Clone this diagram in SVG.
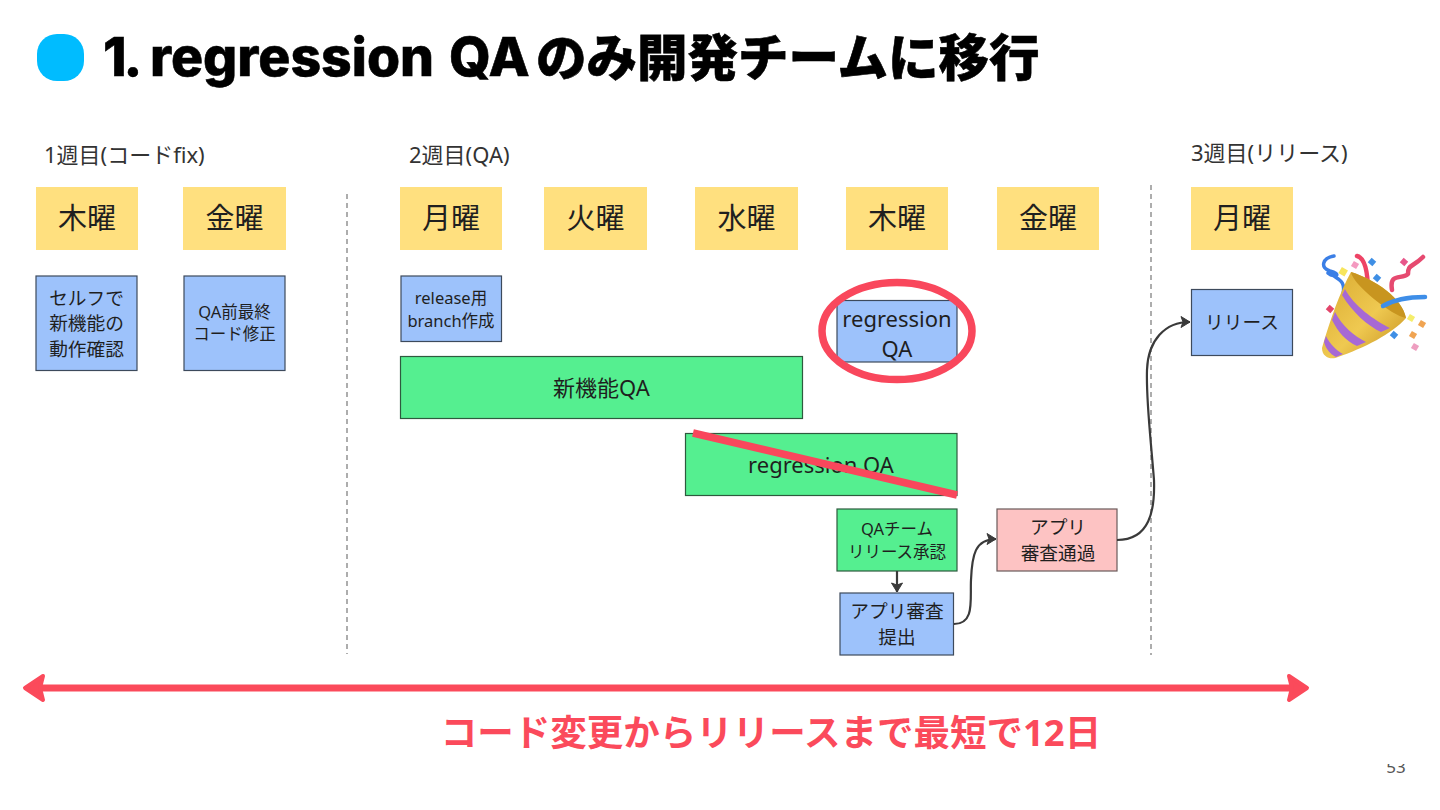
<svg xmlns="http://www.w3.org/2000/svg" width="1440" height="810" viewBox="0 0 1440 810">
<style>
text{font-family:"Noto Sans","Noto Sans CJK JP",sans-serif;fill:#1f1f1f;text-anchor:middle}
.day rect{fill:#ffe07f}
.day text{font-size:29px}
.b rect{stroke:#3d4a5c;stroke-width:1.2}
.blue rect{fill:#9dc2fb}
.green rect{fill:#55ef90;stroke:#2e5a3e}
.pink rect{fill:#fdc3c3;stroke:#6a5a5a}
.wk{font-size:22px;text-anchor:start;fill:#333}
.s19{font-size:18.700px}.s16{font-size:16.500px}.s22{font-size:22px}
.c{fill:none;stroke:#3a3a3a;stroke-width:2.2}
.dash{stroke:#777;stroke-width:1.2;stroke-dasharray:5 4;fill:none}
</style>
<defs>
<marker id="ah" markerUnits="userSpaceOnUse" markerWidth="12" markerHeight="14" refX="11" refY="7" orient="auto"><path d="M2 1.500L11 7L2 12.500L4 7Z" fill="#3a3a3a" stroke="#3a3a3a" stroke-width="1"/></marker>
<linearGradient id="gold" x1="0" y1="0" x2="1" y2="1"><stop offset="0" stop-color="#d9a92f"/><stop offset=".55" stop-color="#efc951"/><stop offset="1" stop-color="#c48e1c"/></linearGradient>
</defs>
<rect width="1440" height="810" fill="#fff"/>
<g id="title">
<rect x="37" y="34" width="47" height="47" rx="20" fill="#00bcff"/>
<text y="76" style="font-family:Inter,'Noto Sans CJK JP',sans-serif;font-weight:800;font-size:53.500px;text-anchor:start;fill:#000;stroke:#000;stroke-width:.6"><tspan x="103" letter-spacing="-3">1. </tspan><tspan x="150">regression </tspan><tspan x="449">QA</tspan><tspan x="536" style="font-size:50.500px">のみ開発チームに移行</tspan></text>
</g>
<g id="week-labels">
<text class="wk" x="44" y="163">1週目(コードfix)</text>
<text class="wk" x="409" y="163">2週目(QA)</text>
<text class="wk" x="1191" y="161">3週目(リリース)</text>
</g>
<g id="dividers">
<path class="dash" d="M347 194V654"/>
<path class="dash" d="M1151 185V655"/>
</g>
<g id="d1" class="day"><rect x="36" y="187" width="102" height="63"/><text x="87" y="229">木曜</text></g>
<g id="d2" class="day"><rect x="183" y="187" width="103" height="63"/><text x="234.500" y="229">金曜</text></g>
<g id="d3" class="day"><rect x="400" y="187" width="102" height="63"/><text x="451" y="229">月曜</text></g>
<g id="d4" class="day"><rect x="544" y="187" width="103" height="63"/><text x="595.500" y="229">火曜</text></g>
<g id="d5" class="day"><rect x="695" y="187" width="103" height="63"/><text x="746.500" y="229">水曜</text></g>
<g id="d6" class="day"><rect x="846" y="187" width="102" height="63"/><text x="897" y="229">木曜</text></g>
<g id="d7" class="day"><rect x="997" y="187" width="102" height="63"/><text x="1048" y="229">金曜</text></g>
<g id="d8" class="day"><rect x="1191" y="187" width="102" height="63"/><text x="1242" y="229">月曜</text></g>

<g id="n1" class="b blue"><rect x="36" y="276" width="101" height="94.500"/><text class="s19" x="86.500" y="305">セルフで</text><text class="s19" x="86.500" y="330">新機能の</text><text class="s19" x="86.500" y="356">動作確認</text></g>
<g id="n2" class="b blue"><rect x="184" y="276" width="101" height="94.500"/><text class="s16" x="234.500" y="318">QA前最終</text><text class="s16" x="234.500" y="340">コード修正</text></g>
<g id="n3" class="b blue"><rect x="401" y="276" width="100.500" height="65.500"/><text class="s16" x="451" y="304">release用</text><text class="s16" x="451" y="327">branch作成</text></g>
<g id="n4" class="b green"><rect x="400.500" y="356.500" width="402" height="62"/><text class="s22" x="601.500" y="396">新機能QA</text></g>
<g id="n5" class="b blue"><rect x="837" y="300.500" width="120" height="61.500"/><text class="s22" x="897" y="327">regression</text><text class="s22" x="897" y="357">QA</text></g>
<g id="n6" class="b green"><rect x="685.500" y="433.500" width="271.500" height="62"/><text class="s22" x="821" y="473">regression QA</text></g>
<g id="n7" class="b green"><rect x="837" y="509" width="120" height="62"/><text class="s16" x="897" y="535">QAチーム</text><text class="s16" x="897" y="558">リリース承認</text></g>
<g id="n8" class="b blue"><rect x="840" y="593" width="113.500" height="62"/><text class="s19" x="897" y="618">アプリ審査</text><text class="s19" x="897" y="644">提出</text></g>
<g id="n9" class="b pink"><rect x="997" y="509" width="120" height="62"/><text class="s19" x="1058" y="534">アプリ</text><text class="s19" x="1058" y="560">審査通過</text></g>
<g id="n10" class="b blue"><rect x="1191.500" y="289.500" width="101" height="66"/><text class="s19" x="1242" y="329">リリース</text></g>

<g id="connectors">
<path class="c" marker-end="url(#ah)" d="M897 571V592"/>
<path class="c" marker-end="url(#ah)" d="M954 624C975 624 970 600 971 580C972 555 975 539 996 539"/>
<path class="c" marker-end="url(#ah)" d="M1117 540C1150 540 1155 510 1154 480C1150 430 1146 400 1147 370C1148 340 1165 322 1190 322"/>
</g>

<g id="marks">
<ellipse cx="897" cy="331" rx="75" ry="48.500" fill="none" stroke="#f9475c" stroke-width="7.500"/>
<path d="M693 433L957 495" stroke="#f9475c" stroke-width="7.500" fill="none"/>
<path d="M36 688H1296" stroke="#fb4a5b" stroke-width="7" fill="none"/>
<path d="M1289 676L1307 688L1289 700L1292 688Z" fill="#fb4a5b" stroke="#fb4a5b" stroke-width="4" stroke-linejoin="round"/>
<path d="M43 676L25 688L43 700L40 688Z" fill="#fb4a5b" stroke="#fb4a5b" stroke-width="4" stroke-linejoin="round"/>
</g>
<text id="span" x="771" y="746" style="font-size:36.500px;font-weight:700;fill:#fb4a5b">コード変更からリリースまで最短で12日</text>

<g id="pagenum">
<text x="1396" y="773" style="font-size:17px;fill:#555">53</text>
<rect x="1370" y="740" width="60" height="24" fill="#fff"/>
</g>

<g id="party" fill="none" stroke-linecap="round" stroke-linejoin="round">
<path d="M1334 256C1322 258 1320 268 1330 271C1342 274 1336 279 1328 273M1330 273C1338 280 1346 280 1343 294" stroke="#3b7fe6" stroke-width="3.500"/>
<path d="M1357 256C1366 258 1368 275 1368 293" stroke="#ee4466" stroke-width="4.500"/>
<path d="M1392 290C1389 272 1402 280 1408 274C1408 264 1412 268 1423 257" stroke="#e64a70" stroke-width="4.500"/>
<path d="M1351 272C1340 292 1330 320 1322 348C1322 358 1332 360 1338 357C1364 348 1392 334 1406 318C1402 298 1376 280 1351 272Z" fill="url(#gold)"/>
<path d="M1342 295C1352 312 1368 326 1381 332L1390 328C1374 320 1354 306 1345 289ZM1332 320C1338 332 1346 341 1357 346L1366 342C1354 336 1342 326 1335 312ZM1324 342C1326 349 1330 354 1336 357L1343 354C1336 350 1330 344 1326 336Z" fill="#a769d4"/>
<path d="M1351 272C1352 284 1392 316 1406 318C1402 298 1376 280 1351 272Z" fill="#c8951f"/>
<path d="M1383 306C1395 299 1410 297 1425 297" stroke="#3e8ee8" stroke-width="4.500"/>
<g stroke="none">
<rect x="1340" y="268" width="7" height="7" fill="#f7e55c" transform="rotate(30 1343 271)"/>
<rect x="1352" y="262" width="6" height="6" fill="#f49ac0" transform="rotate(30 1355 265)"/>
<rect x="1369" y="259" width="6" height="6" fill="#3f8fe5" transform="rotate(40 1372 262)"/>
<rect x="1374" y="275" width="6" height="6" fill="#3f8fe5" transform="rotate(40 1377 278)"/>
<rect x="1401" y="259" width="6" height="6" fill="#e8568a" transform="rotate(40 1404 262)"/>
<rect x="1327" y="306" width="6" height="6" fill="#e2456a" transform="rotate(40 1330 309)"/>
<rect x="1408" y="315" width="6" height="6" fill="#f5ee6c" transform="rotate(30 1411 318)"/>
<rect x="1419" y="321" width="6" height="6" fill="#f0a452" transform="rotate(30 1422 324)"/>
<rect x="1410" y="332" width="6" height="6" fill="#f0a452" transform="rotate(30 1413 335)"/>
<rect x="1391" y="332" width="6" height="6" fill="#3f8fe5" transform="rotate(40 1394 335)"/>
<rect x="1412" y="344" width="6" height="6" fill="#ee9ec0" transform="rotate(30 1415 347)"/>
</g>
</g>
</svg>
